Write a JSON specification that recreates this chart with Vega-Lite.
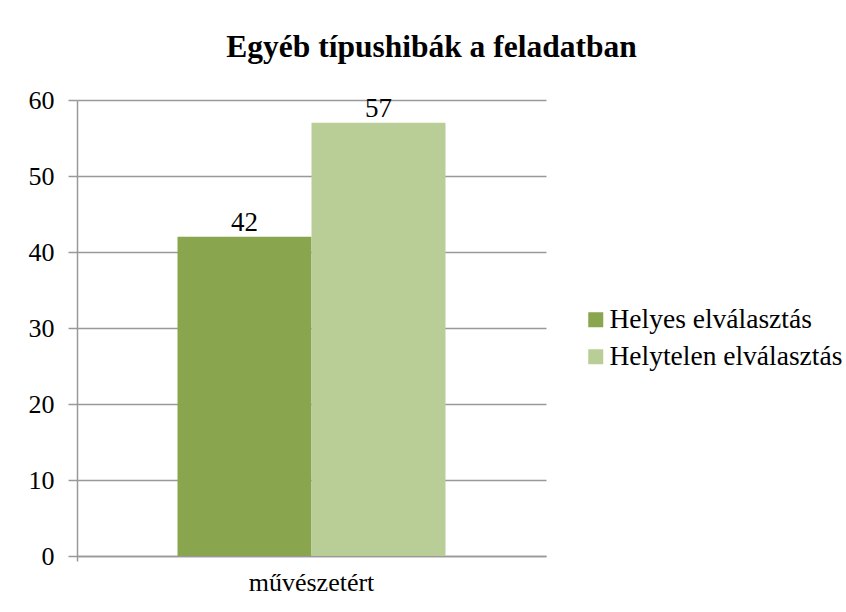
{
  "$schema": "https://vega.github.io/schema/vega-lite/v6.json",
  "width": 469,
  "height": 456,
  "autosize": "none",
  "padding": {"left": 77, "top": 100, "right": 300, "bottom": 56},
  "background": "white",
  "title": {
    "text": "Egyéb típushibák a feladatban",
    "font": "Liberation Serif",
    "fontSize": 31.5,
    "fontWeight": "bold",
    "color": "black",
    "anchor": "middle",
    "dx": 120,
    "offset": 24
  },
  "data": {
    "values": [
      {"cat": "művészetért", "series": "Helyes elválasztás", "value": 42},
      {"cat": "művészetért", "series": "Helytelen elválasztás", "value": 57}
    ]
  },
  "encoding": {
    "x": {
      "field": "cat",
      "type": "nominal",
      "title": null,
      "scale": {"paddingOuter": 0, "paddingInner": 0},
      "axis": {
        "labelAngle": 0,
        "labelFont": "Liberation Serif",
        "labelFontSize": 26,
        "labelColor": "black",
        "labelPadding": 8,
        "domainColor": "#999999",
        "domainWidth": 1.5,
        "tickColor": "#999999",
        "tickWidth": 1.5,
        "tickSize": 5,
        "bandPosition": 0,
        "grid": false
      }
    },
    "xOffset": {"field": "series", "type": "nominal", "scale": {"paddingInner": 0, "paddingOuter": 0.75}},
    "y": {
      "field": "value",
      "type": "quantitative",
      "title": null,
      "scale": {"domain": [0, 60]},
      "axis": {
        "values": [0, 10, 20, 30, 40, 50, 60],
        "labelFont": "Liberation Serif",
        "labelFontSize": 26,
        "labelColor": "black",
        "labelPadding": 14,
        "domainColor": "#999999",
        "domainWidth": 1.5,
        "tickColor": "#999999",
        "tickWidth": 1.5,
        "tickSize": 9,
        "grid": true,
        "gridColor": "#999999",
        "gridWidth": 1.5
      }
    }
  },
  "layer": [
    {
      "mark": {"type": "bar"},
      "encoding": {
        "color": {
          "field": "series",
          "type": "nominal",
          "scale": {"range": ["#89A54E", "#B9CD96"]},
          "legend": {
            "title": null,
            "orient": "none",
            "legendX": 505,
            "legendY": 206,
            "symbolType": "square",
            "symbolSize": 225,
            "symbolStrokeWidth": 0,
            "labelFont": "Liberation Serif",
            "labelFontSize": 27.5,
            "labelColor": "black",
            "labelLimit": 400,
            "rowPadding": 8,
            "labelOffset": 0,
            "padding": 0
          }
        }
      }
    },
    {
      "mark": {
        "type": "text",
        "font": "Liberation Serif",
        "fontSize": 27,
        "color": "black",
        "baseline": "bottom",
        "dy": 0
      },
      "encoding": {
        "text": {"field": "value", "type": "quantitative"}
      }
    }
  ],
  "config": {
    "view": {"stroke": null}
  }
}
